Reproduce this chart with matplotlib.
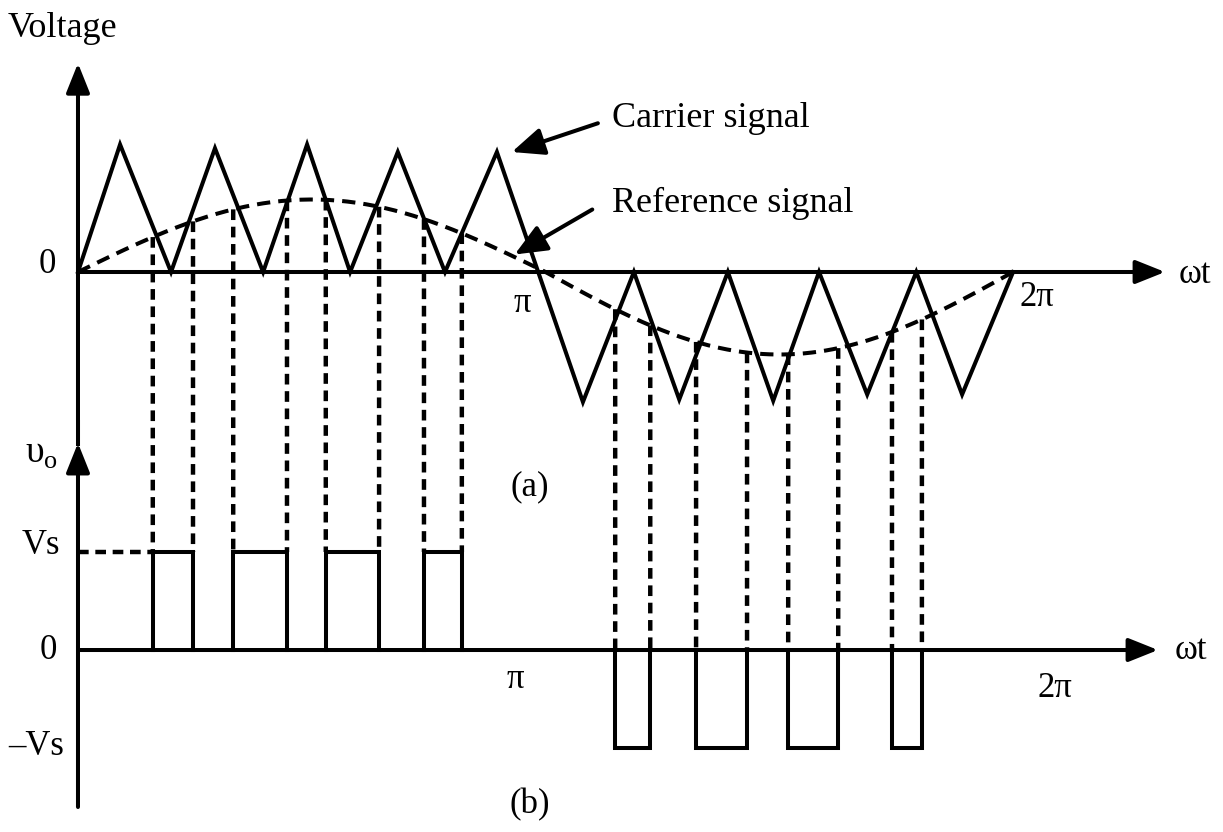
import numpy as np
import matplotlib.pyplot as plt
from matplotlib.patches import ConnectionPatch

plt.rcParams['font.family'] = ['Liberation Serif', 'DejaVu Serif']
plt.rcParams['mathtext.fontset'] = 'custom'
plt.rcParams['mathtext.rm'] = 'Liberation Serif'

# carrier triangle corners: wt in units of pi, value in carrier amplitude units
carrier_t = [0, 0.090, 0.199, 0.293, 0.396, 0.490, 0.582, 0.684, 0.785, 0.896,
             1.080, 1.189, 1.286, 1.390, 1.487, 1.585, 1.688, 1.793, 1.891, 2.0]
carrier_v = [0, 1.02, 0, 0.99, 0, 1.02, 0, 0.96, 0, 0.96,
             -1.04, 0, -1.02, 0, -1.03, 0, -0.98, 0, -0.98, 0]

# reference sine amplitudes (positive / negative half)
ref_amp_pos = 0.58
ref_amp_neg = 0.66

# output pulses (start, end) in units of pi
pos_pulses = [(0.160, 0.246), (0.332, 0.447), (0.530, 0.644), (0.740, 0.821)]
neg_pulses = [(1.149, 1.224), (1.322, 1.431), (1.519, 1.626), (1.741, 1.805)]
vs_level = 1.0

LW = 2.9
DOT_LW = 3.2
DOT = (0, (2.4, 1.5))
DASH = (0, (3.3, 2.0))
FS = 25


def reference(t):
    t = np.asarray(t, dtype=float)
    amp = np.where(t <= 1.0, ref_amp_pos, ref_amp_neg)
    return amp * np.sin(np.pi * t)


def arrow(ax, start, end):
    ax.annotate('', xy=end, xytext=start,
                arrowprops=dict(arrowstyle='-|>,head_length=0.6,head_width=0.24',
                                lw=LW, color='k', mutation_scale=30,
                                shrinkA=0, shrinkB=0))


fig = plt.figure(figsize=(12.23, 8.32), dpi=100)
split = 420 / 832
ax_top = fig.add_axes([0, 1 - split, 1, split])
ax_bot = fig.add_axes([0, 0, 1, 1 - split])
for ax in (ax_top, ax_bot):
    ax.set_xlim(-0.1668, 2.449)
    ax.axis('off')
ax_top.set_ylim(-1.184, 2.176)
ax_bot.set_ylim(-1.857, 2.347)

# ---- (a) carrier and reference ----
arrow(ax_top, (0, -1.184), (0, 1.67))
arrow(ax_top, (0, 0), (2.325, 0))
ax_top.plot(carrier_t, carrier_v, color='k', lw=LW, solid_joinstyle='miter')
t = np.linspace(0, 2, 400)
ax_top.plot(t, reference(t), color='k', lw=LW, linestyle=DASH)

ax_top.text(-0.034, 1.95, 'Voltage', fontsize=FS + 1, ha='center', va='center')
ax_top.text(-0.065, 0.06, '0', fontsize=FS, ha='center', va='center')
ax_top.text(2.39, -0.02, 'ωt', fontsize=FS, ha='center', va='center')
ax_top.text(0.95, -0.25, 'π', fontsize=FS, ha='center', va='center')
ax_top.text(2.05, -0.2, '2π', fontsize=FS, ha='center', va='center')

ax_top.annotate('', xy=(0.928, 0.96), xytext=(1.112, 1.19),
                arrowprops=dict(arrowstyle='-|>,head_length=0.7,head_width=0.3',
                                lw=LW, color='k', mutation_scale=28,
                                shrinkA=0, shrinkB=0))
ax_top.annotate('', xy=(0.934, 0.14), xytext=(1.10, 0.50),
                arrowprops=dict(arrowstyle='-|>,head_length=0.7,head_width=0.3',
                                lw=LW, color='k', mutation_scale=28,
                                shrinkA=0, shrinkB=0))
ax_top.text(1.142, 1.23, 'Carrier signal', fontsize=FS + 1, ha='left', va='center')
ax_top.text(1.142, 0.55, 'Reference signal', fontsize=FS + 1, ha='left', va='center')

# ---- (b) output voltage ----
ax_bot.plot([0, 0], [2.1, 2.347], color='k', lw=LW)
arrow(ax_bot, (0, -1.602), (0, 2.112))
arrow(ax_bot, (0, 0), (2.31, 0))

for a, b in pos_pulses:
    ax_bot.plot([a, a, b, b], [0, vs_level, vs_level, 0], color='k', lw=LW,
                solid_joinstyle='miter')
for a, b in neg_pulses:
    ax_bot.plot([a, a, b, b], [0, -vs_level, -vs_level, 0], color='k', lw=LW,
                solid_joinstyle='miter')

ax_bot.plot([0, pos_pulses[0][0]], [vs_level, vs_level], color='k', lw=DOT_LW,
            linestyle=DOT)

# dotted projections from the crossings down to the pulse edges
for pulses, level in ((pos_pulses, vs_level), (neg_pulses, 0)):
    for edge in np.ravel(pulses):
        con = ConnectionPatch(xyA=(edge, float(reference(edge))), coordsA=ax_top.transData,
                              xyB=(edge, level), coordsB=ax_bot.transData,
                              color='k', lw=DOT_LW, linestyle=DOT, capstyle='butt')
        fig.add_artist(con)

ax_bot.text(-0.078, 2.0, r'$\mathrm{υ}_{\mathrm{o}}$', fontsize=FS + 2, ha='center', va='center')
ax_bot.text(-0.08, 1.07, 'Vs', fontsize=FS, ha='center', va='center')
ax_bot.text(-0.063, 0.0, '0', fontsize=FS, ha='center', va='center')
ax_bot.text(-0.09, -0.98, '–Vs', fontsize=FS, ha='center', va='center')
ax_bot.text(0.935, -0.3, 'π', fontsize=FS, ha='center', va='center')
ax_bot.text(2.09, -0.39, '2π', fontsize=FS, ha='center', va='center')
ax_bot.text(2.38, 0.0, 'ωt', fontsize=FS, ha='center', va='center')
ax_bot.text(0.967, 1.67, '(a)', fontsize=FS, ha='center', va='center')
ax_bot.text(0.967, -1.58, '(b)', fontsize=FS, ha='center', va='center')

fig.savefig('out.png', dpi=100, facecolor='white')
